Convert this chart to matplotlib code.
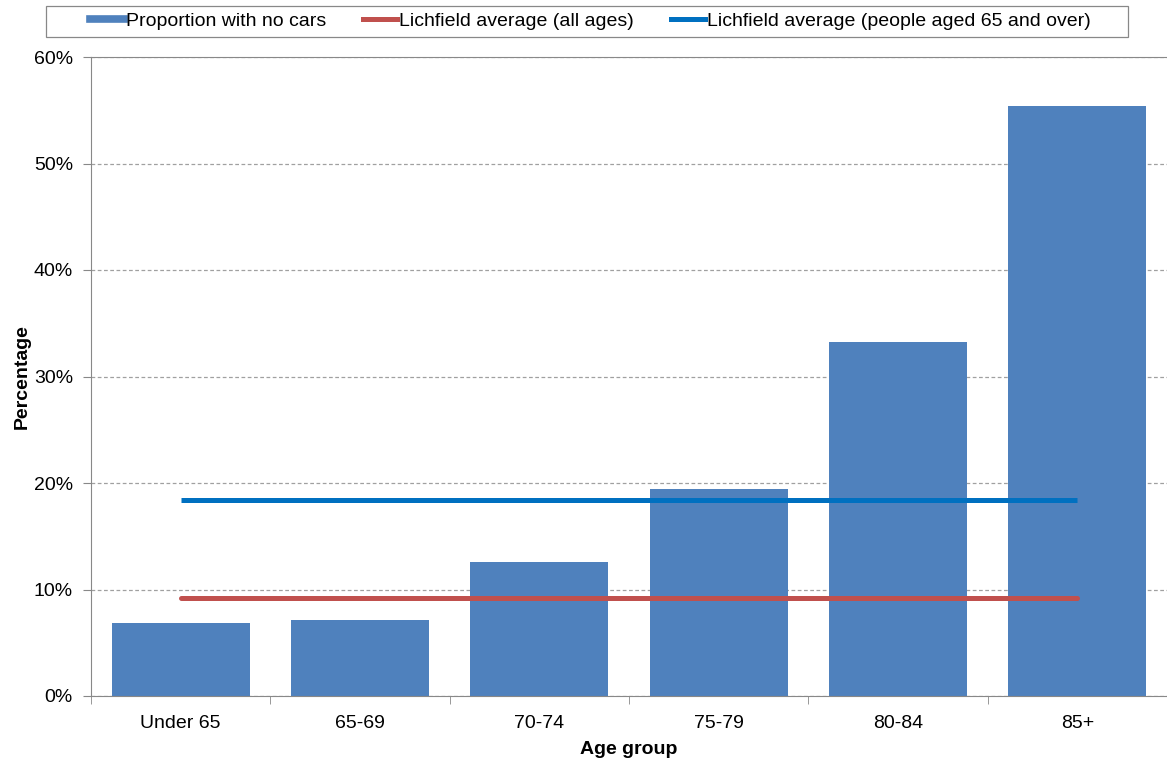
import matplotlib.pyplot as plt
from matplotlib.lines import Line2D
from matplotlib.patches import Rectangle
from matplotlib.ticker import FuncFormatter, MultipleLocator, FixedLocator

plt.rcParams['font.family'] = ['Liberation Sans', 'DejaVu Sans']

age_groups = ['Under 65', '65-69', '70-74', '75-79', '80-84', '85+']
no_cars_pct = [6.9, 7.1, 12.6, 19.4, 33.2, 55.4]
avg_all_ages = 9.2
avg_65_over = 18.4

bar_color = '#4F81BD'
red = '#C0504D'
blue = '#0070C0'

W, H = 1167, 761
fig = plt.figure(figsize=(W / 100, H / 100), dpi=100)
ax = fig.add_axes([91 / W, 1 - 696 / H, 1 - 91 / W, (696 - 57) / H])

x = list(range(len(age_groups)))
ax.bar(x, no_cars_pct, width=0.77, color=bar_color, zorder=2)
ax.plot([x[0], x[-1]], [avg_all_ages] * 2, color=red, lw=3.6, solid_capstyle='round', zorder=3)
ax.plot([x[0], x[-1]], [avg_65_over] * 2, color=blue, lw=3.6, solid_capstyle='butt', zorder=3)

ax.set_xlim(-0.5, len(age_groups) - 0.5)
ax.set_ylim(0, 60)
ax.yaxis.set_major_locator(MultipleLocator(10))
ax.yaxis.set_major_formatter(FuncFormatter(lambda v, _: f'{v:.0f}%'))
ax.grid(axis='y', color='#A0A0A0', linestyle=(0, (3, 2)), lw=0.9, zorder=0)

ax.set_xticks(x)
ax.set_xticklabels(age_groups)
ax.xaxis.set_minor_locator(FixedLocator([i - 0.5 for i in range(len(age_groups) + 1)]))
ax.tick_params(axis='x', which='major', length=0, pad=14, labelsize=14)
ax.tick_params(axis='x', which='minor', length=6, color='#888888')
ax.tick_params(axis='y', length=6, color='#888888', labelsize=14, pad=7)

for side in ['left', 'bottom', 'top']:
    ax.spines[side].set_color('#888888')
ax.spines['right'].set_visible(False)

ax.set_xlabel('Age group', fontsize=14, fontweight='bold', labelpad=6)
ax.set_ylabel('Percentage', fontsize=14, fontweight='bold', labelpad=2)

# legend box sits above the plot, drawn as its own frame
fig.patches.append(Rectangle((46 / W, 1 - 37 / H), (1128 - 46) / W, 31 / H,
                             transform=fig.transFigure, fill=False,
                             edgecolor='#888888', lw=0.9))
handles = [
    Line2D([], [], color=bar_color, lw=5.5),
    Line2D([], [], color=red, lw=3.6),
    Line2D([], [], color=blue, lw=3.6),
]
labels = ['Proportion with no cars', 'Lichfield average (all ages)',
          'Lichfield average (people aged 65 and over)']
fig.legend(handles, labels, ncol=3, loc='center',
           bbox_to_anchor=(590 / W, 1 - 21.5 / H),
           fontsize=14, frameon=False,
           handlelength=1.75, handletextpad=0.1, columnspacing=1.9)

fig.savefig('out.png', dpi=100)
